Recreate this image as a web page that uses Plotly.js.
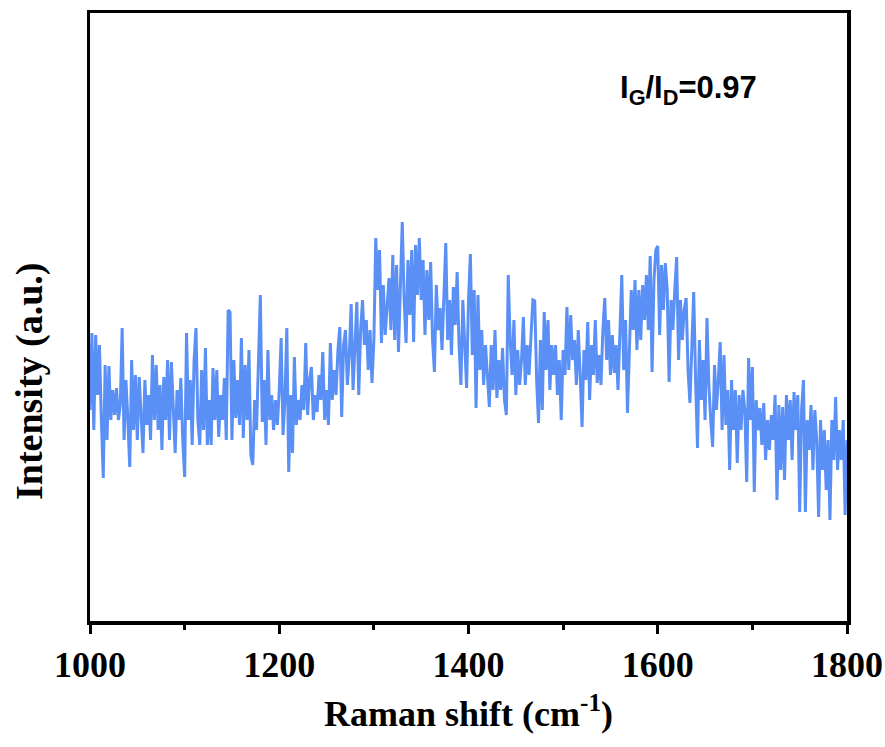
<!DOCTYPE html>
<html>
<head>
<meta charset="utf-8">
<script src="https://cdn.plot.ly/plotly-3.0.1.min.js"></script>
<style>
  html, body { margin: 0; padding: 0; background: #ffffff; }
  #chart { width: 885px; height: 747px; }
</style>
</head>
<body>
<div id="chart"></div>
<script>
// Raman shift grid: 1000 to 1800 cm^-1, step 2 cm^-1
const shiftStart = 1000;
const shiftStep = 2;

// Intensity (a.u.), in 20 cm^-1 blocks
const int1000 = [211, 288, 191, 286, 226, 276, 201, 143, 256, 181];
const int1020 = [255, 201, 231, 206, 233, 201, 216, 293, 181, 241];
const int1040 = [201, 154, 261, 191, 246, 181, 244, 206, 168, 241];
const int1060 = [196, 226, 181, 266, 201, 256, 191, 236, 171, 244];
const int1080 = [201, 261, 181, 259, 211, 168, 231, 201, 243, 181];
const int1100 = [144, 288, 201, 241, 176, 261, 293, 201, 176, 251];
const int1120 = [191, 273, 176, 221, 176, 253, 201, 251, 184, 226];
const int1140 = [201, 243, 181, 311, 309, 181, 261, 203, 241, 196];
const int1160 = [283, 183, 256, 201, 271, 166, 156, 221, 191, 261];
const int1180 = [326, 199, 241, 176, 271, 201, 226, 191, 221, 196];
const int1200 = [231, 283, 186, 221, 293, 149, 226, 168, 264, 196];
const int1220 = [221, 201, 236, 211, 278, 206, 241, 254, 201, 226];
const int1240 = [209, 246, 221, 269, 201, 231, 196, 278, 221, 251];
const int1260 = [226, 271, 294, 204, 276, 291, 236, 266, 317, 231];
const int1280 = [271, 319, 226, 291, 321, 276, 301, 251, 291, 238];
const int1300 = [281, 383, 331, 371, 278, 336, 286, 321, 343, 291];
const int1320 = [366, 281, 356, 269, 341, 399, 321, 278, 361, 306];
const int1340 = [371, 279, 376, 326, 383, 321, 361, 286, 351, 301];
const int1360 = [359, 281, 249, 336, 291, 313, 271, 321, 378, 281];
const int1380 = [321, 266, 334, 296, 349, 276, 236, 321, 271, 233];
const int1400 = [321, 367, 266, 331, 213, 326, 251, 291, 236, 276];
const int1420 = [246, 214, 276, 231, 291, 223, 261, 231, 273, 221];
const int1440 = [206, 346, 281, 246, 301, 226, 271, 236, 261, 304];
const int1460 = [236, 276, 246, 281, 321, 320, 241, 198, 281, 211];
const int1480 = [309, 251, 301, 231, 276, 246, 276, 226, 261, 201];
const int1500 = [271, 246, 314, 251, 306, 261, 281, 236, 291, 246];
const int1520 = [194, 271, 241, 299, 221, 276, 246, 301, 238, 266];
const int1540 = [236, 291, 323, 261, 301, 246, 286, 248, 276, 231];
const int1560 = [291, 346, 251, 301, 208, 281, 331, 291, 341, 271];
const int1580 = [331, 281, 336, 301, 346, 291, 365, 249, 341, 371];
const int1600 = [375, 286, 356, 311, 358, 331, 239, 321, 291, 331];
const int1620 = [364, 261, 321, 281, 311, 323, 251, 218, 281, 329];
const int1640 = [241, 173, 281, 221, 261, 201, 303, 236, 201, 174];
const int1660 = [256, 211, 241, 279, 191, 266, 196, 231, 151, 241];
const int1680 = [191, 231, 158, 226, 191, 231, 211, 139, 263, 201];
const int1700 = [254, 129, 221, 191, 213, 176, 218, 161, 201, 171];
const int1720 = [206, 181, 226, 121, 216, 151, 214, 141, 226, 181];
const int1740 = [221, 161, 229, 191, 226, 109, 211, 241, 109, 201];
const int1760 = [171, 216, 151, 211, 181, 104, 201, 151, 191, 131];
const int1780 = [181, 101, 201, 161, 224, 151, 191, 161, 201, 106, 181];

const intensity = [].concat(
  int1000, int1020, int1040, int1060, int1080, int1100, int1120, int1140,
  int1160, int1180, int1200, int1220, int1240, int1260, int1280, int1300,
  int1320, int1340, int1360, int1380, int1400, int1420, int1440, int1460,
  int1480, int1500, int1520, int1540, int1560, int1580, int1600, int1620,
  int1640, int1660, int1680, int1700, int1720, int1740, int1760, int1780
);
const ramanShift = intensity.map((_, i) => shiftStart + i * shiftStep);

const xTickVals = [1000, 1200, 1400, 1600, 1800];
const xTickText = ['1000', '1200', '1400', '1600', '1800'];
const ratioLabel = 'I<sub>G</sub>/I<sub>D</sub>=0.97';

const serif = 'Liberation Serif, Times New Roman, serif';
const sans = 'Liberation Sans, Arial, sans-serif';

const trace = {
  x: ramanShift,
  y: intensity,
  type: 'scatter',
  mode: 'lines',
  line: { color: '#5A8FF5', width: 3 },
  hoverinfo: 'skip',
  showlegend: false
};

const layout = {
  width: 885,
  height: 747,
  margin: { l: 90, r: 38, t: 13, b: 126 },
  paper_bgcolor: '#ffffff',
  plot_bgcolor: '#ffffff',
  showlegend: false,
  xaxis: {
    range: [1000, 1800],
    tickmode: 'array',
    tickvals: xTickVals,
    ticktext: xTickText,
    ticks: 'outside',
    ticklen: 9,
    tickwidth: 3,
    tickcolor: '#000',
    minor: { dtick: 100, tick0: 1000, ticks: 'outside', ticklen: 5, tickwidth: 3, tickcolor: '#000' },
    showline: true,
    linewidth: 3.5,
    linecolor: '#000',
    mirror: true,
    showgrid: false,
    zeroline: false,
    tickfont: { family: serif, size: 36, color: '#000', weight: 'bold' },
    title: {
      text: 'Raman shift (cm<sup>-1</sup>)',
      font: { family: serif, size: 36, color: '#000', weight: 'bold' },
      standoff: 18
    }
  },
  yaxis: {
    range: [0, 608],
    showticklabels: false,
    ticks: '',
    showline: true,
    linewidth: 3.5,
    linecolor: '#000',
    mirror: true,
    showgrid: false,
    zeroline: false
  },
  annotations: [
    {
      text: 'Intensity (a.u.)',
      xref: 'paper', yref: 'paper',
      x: -0.079, y: 0.395,
      xanchor: 'center', yanchor: 'middle',
      textangle: -90,
      showarrow: false,
      font: { family: serif, size: 38, color: '#000', weight: 'bold' }
    },
    {
      text: ratioLabel,
      xref: 'paper', yref: 'paper',
      x: 0.79, y: 0.873,
      xanchor: 'center', yanchor: 'middle',
      showarrow: false,
      font: { family: sans, size: 31, color: '#000', weight: 'bold' }
    }
  ]
};

Plotly.newPlot('chart', [trace], layout, { displayModeBar: false, staticPlot: true });
</script>
</body>
</html>
